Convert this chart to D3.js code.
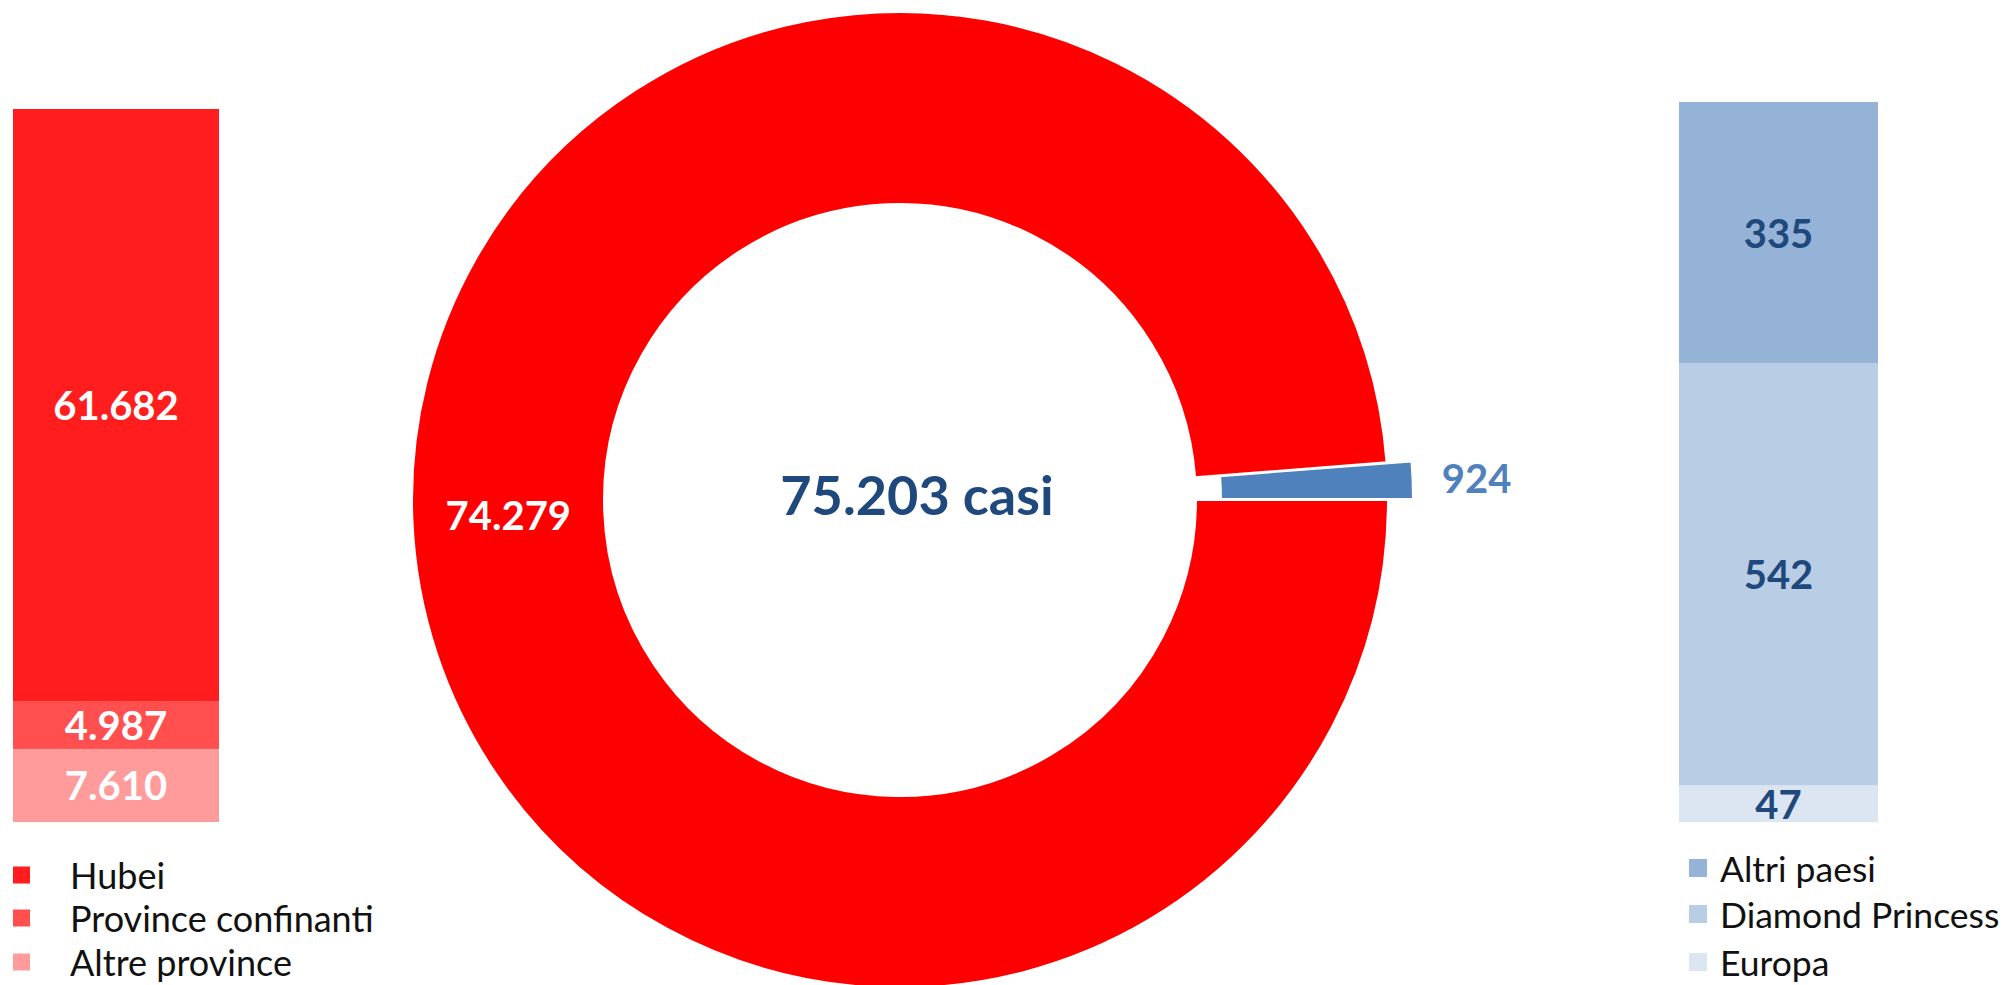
<!DOCTYPE html>
<html><head><meta charset="utf-8">
<script src="https://cdn.jsdelivr.net/npm/d3@7"></script>
<style>
html,body{margin:0;padding:0;background:#fff;}
svg text{font-family:Lato,"Open Sans",sans-serif;}
</style></head>
<body>
<svg id="chart" width="2005" height="985"></svg>
<script>
// ---- data ----
const provinceCats = ["Hubei", "Province confinanti", "Altre province"];
const provinceVals = [61682, 4987, 7610];
const provinceColors = ["#ff1d1d", "#ff4f4f", "#ff9b9b"];

const donutCats = ["Cina", "Resto del mondo"];
const donutVals = [74279, 924];
const donutColors = ["#ff0000", "#4f81bd"];

const abroadCats = ["Altri paesi", "Diamond Princess", "Europa"];
const abroadVals = [335, 542, 47];
const abroadColors = ["#95b3d7", "#b9cde5", "#dce6f2"];

const totalLabel = "casi";

// ---- helpers ----
const it = d3.formatLocale({decimal: ",", thousands: ".", grouping: [3], currency: ["€", ""]});
const fmt = it.format(",");
const svg = d3.select("#chart");

// stacked bar: first category on top, last at bottom
function stackBar(cats, vals, colors, x0, x1, yTop, yBottom, labelColor) {
  const total = d3.sum(vals);
  const y = d3.scaleLinear().domain([0, total]).range([yBottom, yTop]);
  const x = d3.scaleLinear().domain([0, 1]).range([x0, x1]);
  const segs = [];
  let acc = 0;
  for (let i = vals.length - 1; i >= 0; i--) {
    segs.push({cat: cats[i], v: vals[i], c: colors[i], lo: acc, hi: acc + vals[i]});
    acc += vals[i];
  }
  const g = svg.append("g");
  g.selectAll("rect").data(segs).join("rect")
    .attr("x", x(0)).attr("width", x(1) - x(0))
    .attr("y", d => y(d.hi)).attr("height", d => y(d.lo) - y(d.hi))
    .attr("fill", d => d.c);
  g.selectAll("text").data(segs).join("text")
    .attr("x", (x(0) + x(1)) / 2)
    .attr("y", d => (y(d.lo) + y(d.hi)) / 2)
    .attr("text-anchor", "middle").attr("dominant-baseline", "central")
    .attr("font-weight", "bold").attr("font-size", 40)
    .attr("fill", labelColor)
    .text(d => fmt(d.v));
}

function legend(cats, colors, xSq, xText, ys, sq, fs) {
  const g = svg.append("g");
  const rows = cats.map((c, i) => ({c, col: colors[i], y: ys[i]}));
  g.selectAll("rect").data(rows).join("rect")
    .attr("x", xSq).attr("y", d => d.y - sq / 2).attr("width", sq).attr("height", sq)
    .attr("fill", d => d.col);
  g.selectAll("text").data(rows).join("text")
    .attr("x", xText).attr("y", d => d.y)
    .attr("dominant-baseline", "central")
    .attr("font-size", fs).attr("fill", "#111")
    .text(d => d.c);
}

// ---- left bar ----
stackBar(provinceCats, provinceVals, provinceColors, 13, 219, 109, 822, "#ffffff");
legend(provinceCats, provinceColors, 13, 70, [875, 918, 962], 17, 36);

// ---- right bar ----
stackBar(abroadCats, abroadVals, abroadColors, 1679, 1878, 102, 822, "#1f497d");
legend(abroadCats, abroadColors, 1689, 1720, [868, 914, 962], 18, 35.5);

// ---- donut ----
const cx = 900, cy = 500, rOut = 488, rIn = 296, explode = 25;
const pie = d3.pie().sort(null).startAngle(Math.PI / 2).endAngle(Math.PI / 2 + 2 * Math.PI);
const arcs = pie(donutVals);
const arc = d3.arc().innerRadius(rIn).outerRadius(rOut);
const dg = svg.append("g").attr("transform", `translate(${cx},${cy})`);
arcs.forEach((a, i) => {
  const mid = (a.startAngle + a.endAngle) / 2;
  const off = i === 1 ? explode : 0;
  const dx = Math.sin(mid) * off, dy = -Math.cos(mid) * off;
  const g = dg.append("g").attr("transform", `translate(${dx},${dy})`);
  g.append("path").attr("d", arc(a)).attr("fill", donutColors[i])
    .attr("stroke", "#fff").attr("stroke-width", 2);
});
// label of big slice (centroid)
const c0 = arc.centroid(arcs[0]);
dg.append("text").attr("x", c0[0]).attr("y", c0[1])
  .attr("text-anchor", "middle").attr("dominant-baseline", "central")
  .attr("font-weight", "bold").attr("font-size", 40).attr("fill", "#fff")
  .text(fmt(donutVals[0]));
// label of small slice (outside)
const mid1 = (arcs[1].startAngle + arcs[1].endAngle) / 2;
const rLab = rOut + explode + 64;
dg.append("text").attr("x", Math.sin(mid1) * rLab).attr("y", -Math.cos(mid1) * rLab)
  .attr("text-anchor", "middle").attr("dominant-baseline", "central")
  .attr("font-weight", "bold").attr("font-size", 40).attr("fill", "#4f81bd")
  .text(fmt(donutVals[1]));
// total in center
dg.append("text").attr("x", 17).attr("y", -6)
  .attr("text-anchor", "middle").attr("dominant-baseline", "central")
  .attr("font-weight", "bold").attr("font-size", 54).attr("fill", "#1f497d")
  .text(fmt(d3.sum(donutVals)) + " " + totalLabel);
</script>
</body></html>
